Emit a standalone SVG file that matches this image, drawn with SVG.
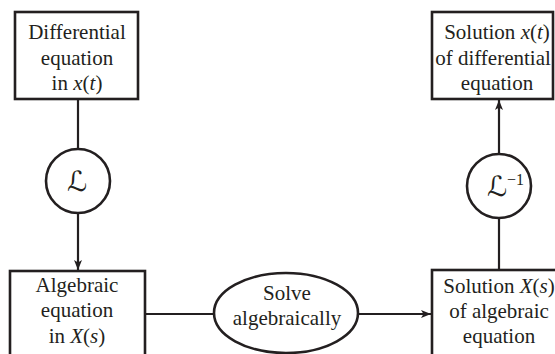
<svg xmlns="http://www.w3.org/2000/svg" width="555" height="354" viewBox="0 0 555 354">
<defs>
<style>
.box{fill:#fff;stroke:#231f20;stroke-width:2.6}
.ln{fill:none;stroke:#231f20;stroke-width:2.2}
.t{font-family:"Liberation Serif","Times New Roman",serif;font-size:21px;fill:#231f20;text-anchor:middle}
.i{font-style:italic}
.sym{font-family:"DejaVu Serif","DejaVu Sans",serif;font-style:italic;font-size:28px;fill:#231f20}
</style>
<marker id="ah" viewBox="0 0 10 8" refX="10" refY="4" markerWidth="10" markerHeight="8" markerUnits="userSpaceOnUse" orient="auto">
<path d="M0,0 L10,4 L0,8 L2.5,4 Z" fill="#231f20"/>
</marker>
</defs>
<rect width="555" height="354" fill="#fff"/>
<g id="connectors">
<line class="ln" x1="78" y1="99" x2="78" y2="149"/>
<line class="ln" x1="78" y1="213" x2="78" y2="270" marker-end="url(#ah)"/>
<line class="ln" x1="145" y1="314" x2="214" y2="314"/>
<line class="ln" x1="358" y1="314" x2="431" y2="314" marker-end="url(#ah)"/>
<line class="ln" x1="499" y1="270" x2="499" y2="218"/>
<line class="ln" x1="499" y1="154" x2="499" y2="100" marker-end="url(#ah)"/>
</g>
<g id="diffeq">
<rect class="box" x="15" y="12" width="123" height="87"/>
<text class="t" x="77" y="39">Differential</text>
<text class="t" x="77" y="65">equation</text>
<text class="t" x="77" y="90">in <tspan class="i">x</tspan>(<tspan class="i">t</tspan>)</text>
</g>
<g id="laplace">
<circle class="box" cx="78" cy="181" r="32" stroke-width="2.2"/>
<text class="sym" x="77" y="191" text-anchor="middle">ℒ</text>
</g>
<g id="algeq">
<rect class="box" x="10" y="271" width="135" height="100"/>
<text class="t" x="77" y="292">Algebraic</text>
<text class="t" x="77" y="317">equation</text>
<text class="t" x="77" y="343">in <tspan class="i">X</tspan>(<tspan class="i">s</tspan>)</text>
</g>
<g id="solve">
<ellipse class="box" cx="286" cy="313" rx="72" ry="40" stroke-width="2.2"/>
<text class="t" x="287" y="300">Solve</text>
<text class="t" x="287" y="325">algebraically</text>
</g>
<g id="solX">
<rect class="box" x="432" y="270" width="140" height="100"/>
<text class="t" x="499" y="293">Solution <tspan class="i">X</tspan>(<tspan class="i">s</tspan>)</text>
<text class="t" x="499" y="318">of algebraic</text>
<text class="t" x="499" y="343">equation</text>
</g>
<g id="invlaplace">
<circle class="box" cx="499" cy="186" r="32" stroke-width="2.2"/>
<text class="sym" x="497" y="196" text-anchor="middle">ℒ</text>
<text x="507" y="185" font-family="Liberation Serif, serif" font-size="16" fill="#231f20">−1</text>
</g>
<g id="solx">
<rect class="box" x="432" y="12" width="121" height="87"/>
<text class="t" x="497" y="39">Solution <tspan class="i">x</tspan>(<tspan class="i">t</tspan>)</text>
<text class="t" x="493" y="65" font-size="20">of differential</text>
<text class="t" x="497" y="90">equation</text>
</g>
</svg>
